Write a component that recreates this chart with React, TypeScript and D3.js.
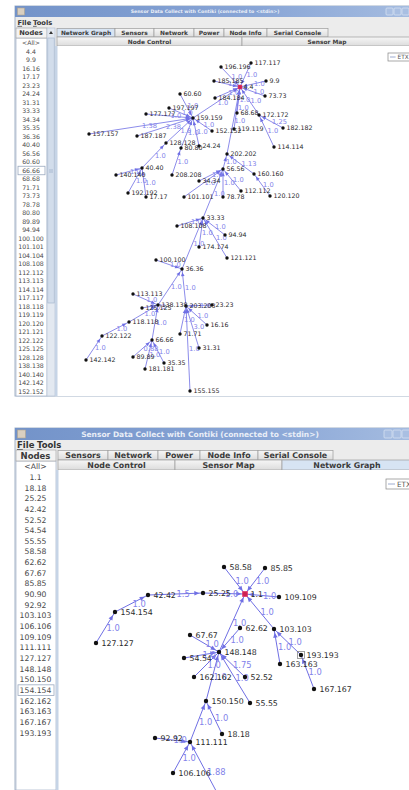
import { useEffect, useRef } from "react";
import * as d3 from "d3";

const TITLE = "Sensor Data Collect with Contiki (connected to <stdin>)";
const menuItems = ["File", "Tools"];

// top screenshot
const tabs1 = ["Network Graph", "Sensors", "Network", "Power", "Node Info", "Serial Console"];
const subTabs1 = ["Node Control", "Sensor Map"];
const nodeList1 = [
  "<All>", "4.4", "9.9", "16.16", "17.17", "23.23", "24.24", "31.31", "33.33", "34.34",
  "35.35", "36.36", "40.40", "56.56", "60.60", "66.66", "68.68", "71.71", "73.73", "78.78",
  "80.80", "89.89", "94.94", "100.100", "101.101", "104.104", "108.108", "112.112", "113.113",
  "114.114", "117.117", "118.118", "119.119", "120.120", "121.121", "122.122", "125.125",
  "128.128", "138.138", "140.140", "142.142", "152.152",
];

// [node, x, y] in graph-panel units
const graph1Nodes: [string, number, number][] = [
  ["4.4", 183, 41], ["117.117", 194, 17], ["196.196", 164, 21], ["185.185", 157, 35],
  ["9.9", 209, 35], ["73.73", 208, 50], ["184.184", 158, 52], ["60.60", 123, 48],
  ["197.197", 112, 62], ["177.177", 89, 68], ["159.159", 136, 72], ["157.157", 32, 88],
  ["187.187", 80, 90], ["152.152", 155, 85], ["68.68", 180, 67], ["172.172", 202, 69],
  ["182.182", 226, 82], ["119.119", 177, 83], ["128.128", 109, 97], ["80.80", 124, 102],
  ["24.24", 142, 100], ["114.114", 217, 101], ["202.202", 170, 108], ["40.40", 85, 122],
  ["140.140", 59, 129], ["208.208", 115, 129], ["56.56", 166, 123], ["160.160", 197, 128],
  ["34.34", 142, 135], ["112.112", 184, 145], ["192.192", 71, 147], ["17.17", 89, 151],
  ["101.101", 127, 151], ["78.78", 166, 151], ["120.120", 213, 150], ["33.33", 146, 172],
  ["108.108", 120, 180], ["94.94", 168, 189], ["174.174", 142, 201], ["121.121", 170, 212],
  ["100.100", 99, 214], ["36.36", 125, 223], ["113.113", 76, 248], ["138.138", 101, 259],
  ["125.125", 85, 262], ["203.203", 129, 260], ["23.23", 155, 259], ["118.118", 72, 276],
  ["16.16", 150, 279], ["122.122", 45, 290], ["71.71", 123, 288], ["66.66", 95, 294],
  ["31.31", 142, 302], ["142.142", 29, 314], ["89.89", 76, 311], ["35.35", 107, 317],
  ["181.181", 88, 323], ["155.155", 133, 345],
];

// [child, parent, ETX]
const graph1Links: [string, string, string][] = [
  ["117.117", "4.4", "1.0"], ["196.196", "4.4", "1.0"], ["185.185", "4.4", "1.0"],
  ["9.9", "4.4", "1.0"], ["73.73", "4.4", "1.0"], ["184.184", "4.4", "1.0"],
  ["159.159", "4.4", "1.0"], ["68.68", "4.4", "1.0"], ["172.172", "4.4", "1.0"],
  ["119.119", "4.4", "1.0"], ["202.202", "4.4", "1.0"], ["182.182", "172.172", "1.25"],
  ["114.114", "172.172", "1.0"], ["60.60", "159.159", "1.0"], ["197.197", "159.159", "1.0"],
  ["177.177", "159.159", "1.0"], ["157.157", "159.159", "1.38"], ["187.187", "159.159", "2.38"],
  ["152.152", "159.159", "1.0"], ["128.128", "159.159", "1.0"], ["24.24", "159.159", "1.0"],
  ["80.80", "159.159", "1.0"], ["208.208", "80.80", "1.0"], ["40.40", "128.128", "1.0"],
  ["140.140", "40.40", "1.0"], ["192.192", "40.40", "1.0"], ["17.17", "40.40", "1.0"],
  ["56.56", "202.202", "1.0"], ["160.160", "202.202", "1.13"], ["120.120", "160.160", "1.0"],
  ["34.34", "56.56", "1.0"], ["101.101", "56.56", "1.0"], ["78.78", "56.56", "1.0"],
  ["112.112", "56.56", "1.0"], ["33.33", "56.56", "1.0"], ["108.108", "33.33", "1.0"],
  ["94.94", "33.33", "1.0"], ["174.174", "33.33", "1.0"], ["121.121", "33.33", "1.0"],
  ["36.36", "33.33", "1.0"], ["100.100", "36.36", "1.0"], ["138.138", "36.36", "1.0"],
  ["203.203", "36.36", "1.0"], ["113.113", "138.138", "1.0"], ["125.125", "138.138", "1.75"],
  ["118.118", "138.138", "1.0"], ["122.122", "118.118", "1.0"], ["142.142", "122.122", "1.0"],
  ["66.66", "138.138", "1.0"], ["89.89", "66.66", "0.88"], ["35.35", "66.66", "1.0"],
  ["181.181", "66.66", "1.0"], ["23.23", "203.203", "1.0"], ["16.16", "203.203", "1.0"],
  ["71.71", "203.203", "1.0"], ["31.31", "203.203", "3.0"], ["155.155", "203.203", "1.0"],
];

// bottom screenshot
const tabs2 = ["Sensors", "Network", "Power", "Node Info", "Serial Console"];
const subTabs2 = ["Node Control", "Sensor Map", "Network Graph"];
const nodeList2 = [
  "<All>", "1.1", "18.18", "25.25", "42.42", "52.52", "54.54", "55.55", "58.58", "62.62",
  "67.67", "85.85", "90.90", "92.92", "103.103", "106.106", "109.109", "111.111", "127.127",
  "148.148", "150.150", "154.154", "162.162", "163.163", "167.167", "193.193",
];

const graph2Nodes: [string, number, number][] = [
  ["1.1", 187, 124], ["58.58", 166, 97], ["85.85", 207, 98], ["42.42", 90, 125],
  ["25.25", 145, 123], ["109.109", 221, 127], ["154.154", 57, 142], ["127.127", 38, 173],
  ["62.62", 182, 158], ["103.103", 216, 159], ["67.67", 132, 165], ["148.148", 161, 182],
  ["54.54", 126, 188], ["193.193", 243, 185], ["163.163", 222, 194], ["162.162", 136, 207],
  ["52.52", 187, 207], ["167.167", 256, 219], ["150.150", 148, 231], ["55.55", 192, 233],
  ["18.18", 164, 264], ["92.92", 97, 268], ["111.111", 132, 272], ["106.106", 115, 303],
  ["90.90", 164, 332],
];

const graph2Links: [string, string, string][] = [
  ["58.58", "1.1", "1.0"], ["85.85", "1.1", "1.0"], ["25.25", "1.1", "1.0"],
  ["109.109", "1.1", "1.0"], ["148.148", "1.1", "1.0"], ["103.103", "1.1", "1.0"],
  ["42.42", "25.25", "1.5"], ["154.154", "42.42", "1.0"], ["127.127", "154.154", "1.0"],
  ["62.62", "148.148", "1.0"], ["67.67", "148.148", "1.0"], ["54.54", "148.148", "1.0"],
  ["162.162", "148.148", "1.0"], ["52.52", "148.148", "1.75"], ["55.55", "148.148", "1.0"],
  ["150.150", "148.148", "1.0"], ["163.163", "103.103", "1.0"], ["193.193", "103.103", "1.0"],
  ["167.167", "193.193", "1.0"], ["18.18", "150.150", "1.0"], ["111.111", "150.150", "1.0"],
  ["92.92", "111.111", "1.0"], ["106.106", "111.111", "1.0"], ["90.90", "111.111", "1.88"],
];

const FONT = "'DejaVu Sans', sans-serif";
const LEFT = 15;
const RIGHT = 409;

type Cfg = {
  id: string;
  top: number; bottom: number;
  titleH: number; menuH: number; tabH: number; subH: number;
  listRight: number; scrollRight: number; graphLeft: number;
  titleX: number; btnX: number[]; btn: number;
  tabs: string[]; tabEdges: number[]; selTab: number;
  subs: string[]; subEdges: number[]; selSub: number;
  items: string[]; itemY0: number; itemStep: number; selItem: string;
  f: { title: number; menu: number; tab: number; list: number; node: number; etx: number };
  menuX: number[];
  nodes: [string, number, number][]; links: [string, string, string][];
  root: string; boxed?: string;
  dotR: number; arrow: number; lineW: number; labelDx: number;
  legend: [number, number, number, number];
};

function drawWindow(svg: d3.Selection<SVGSVGElement, unknown, null, undefined>, c: Cfg) {
  const g = svg.append("g");
  const yMenu = c.top + c.titleH;
  const yTab = yMenu + c.menuH;
  const ySub = yTab + c.tabH;
  const yGraph = ySub + c.subH;

  g.append("rect").attr("x", LEFT).attr("y", c.top).attr("width", RIGHT - LEFT + 4)
    .attr("height", c.bottom - c.top).attr("fill", "#ececec").attr("stroke", "#a4b3c8");

  // title bar
  g.append("rect").attr("x", LEFT).attr("y", c.top).attr("width", RIGHT - LEFT + 4)
    .attr("height", c.titleH).attr("fill", "url(#titleGrad)");
  g.append("rect").attr("x", LEFT + 2.5).attr("y", c.top + 2).attr("width", c.titleH - 4)
    .attr("height", c.titleH - 4).attr("fill", "#d9cfc0").attr("stroke", "#b0a490").attr("stroke-width", 0.6);
  g.append("text").attr("x", c.titleX).attr("y", c.top + c.titleH / 2).attr("dy", "0.36em")
    .attr("text-anchor", "middle").attr("font-family", FONT).attr("font-weight", "bold")
    .attr("font-size", c.f.title).attr("fill", "#e9eef7").text(TITLE);
  c.btnX.forEach((bx) => {
    g.append("rect").attr("x", bx).attr("y", c.top + (c.titleH - c.btn) / 2).attr("width", c.btn)
      .attr("height", c.btn).attr("rx", 1).attr("fill", "#a9bfe2").attr("stroke", "#dbe5f4").attr("stroke-width", 0.7);
  });

  // menu
  menuItems.forEach((m, i) => {
    const t = g.append("text").attr("x", c.menuX[i]).attr("y", yMenu + c.menuH / 2).attr("dy", "0.36em")
      .attr("font-family", FONT).attr("font-weight", "bold").attr("font-size", c.f.menu).attr("fill", "#333");
    t.append("tspan").attr("text-decoration", "underline").text(m[0]);
    t.append("tspan").text(m.slice(1));
  });

  // node list
  const listMid = (LEFT + c.listRight) / 2;
  g.append("rect").attr("x", LEFT + 1).attr("y", yTab + c.tabH + 1).attr("width", c.listRight - LEFT - 1)
    .attr("height", c.bottom - yTab - c.tabH - 1).attr("fill", "#fff").attr("stroke", "#aebbd0").attr("stroke-width", 0.8);
  g.append("rect").attr("x", LEFT + 1).attr("y", yTab).attr("width", c.listRight - LEFT - 1)
    .attr("height", c.tabH + 1).attr("fill", "#f3f3f3").attr("stroke", "#a8a8a8").attr("stroke-width", 0.7);
  g.append("text").attr("x", listMid).attr("y", yTab + (c.tabH + 1) / 2).attr("dy", "0.36em")
    .attr("text-anchor", "middle").attr("font-family", FONT).attr("font-weight", "bold")
    .attr("font-size", c.f.menu).attr("fill", "#3a3a3a").text("Nodes");
  if (c.scrollRight > c.listRight) {
    const sw = c.scrollRight - c.listRight;
    g.append("rect").attr("x", c.listRight).attr("y", yTab).attr("width", sw)
      .attr("height", c.bottom - yTab).attr("fill", "#e3e9f1").attr("stroke", "#b3c0d2").attr("stroke-width", 0.6);
    g.append("rect").attr("x", c.listRight + 0.8).attr("y", yTab + c.tabH + 1).attr("width", sw - 1.6)
      .attr("height", 265).attr("fill", "#d2ddeb").attr("stroke", "#9fb1c9").attr("stroke-width", 0.6);
    g.append("path")
      .attr("d", `M${c.listRight + sw / 2},${yTab + 3} l2,3 h-4 z`).attr("fill", "#333");
    g.append("path")
      .attr("d", `M${c.listRight + 2},${yTab + c.tabH + 133} h${sw - 4} M${c.listRight + 2},${yTab + c.tabH + 135} h${sw - 4}`)
      .attr("stroke", "#8fa3bf").attr("stroke-width", 0.6);
  }
  c.items.forEach((it, i) => {
    const y = c.itemY0 + i * c.itemStep;
    if (it === c.selItem) {
      g.append("rect").attr("x", LEFT + 3).attr("y", y - c.itemStep / 2).attr("width", c.listRight - LEFT - 5)
        .attr("height", c.itemStep).attr("fill", "none").attr("stroke", "#9aa9bf").attr("stroke-width", 0.8);
    }
    g.append("text").attr("x", listMid).attr("y", y).attr("dy", "0.36em").attr("text-anchor", "middle")
      .attr("font-family", FONT).attr("font-size", c.f.list).attr("fill", "#4a4a4a").text(it);
  });

  // tabs
  const tabRow = (labels: string[], edges: number[], sel: number, y: number, h: number) => {
    labels.forEach((lab, i) => {
      const x0 = edges[i];
      const x1 = edges[i + 1];
      g.append("rect").attr("x", x0).attr("y", y).attr("width", x1 - x0).attr("height", h)
        .attr("fill", i === sel ? "#d7e4f3" : "url(#tabGrad)").attr("stroke", "#9c9c9c").attr("stroke-width", 0.7);
      g.append("text").attr("x", (x0 + x1) / 2).attr("y", y + h / 2).attr("dy", "0.36em")
        .attr("text-anchor", "middle").attr("font-family", FONT).attr("font-weight", "bold")
        .attr("font-size", c.f.tab).attr("fill", "#3c3c3c").text(lab);
    });
  };
  tabRow(c.tabs, c.tabEdges, c.selTab, yTab + 0.5, c.tabH - 0.5);
  tabRow(c.subs, c.subEdges, c.selSub, ySub, c.subH);

  // graph panel
  const gw = RIGHT - c.graphLeft;
  const gh = c.bottom - yGraph;
  g.append("rect").attr("x", c.graphLeft).attr("y", yGraph).attr("width", gw + 2).attr("height", gh).attr("fill", "#fff");
  g.append("rect").attr("x", c.graphLeft - 2).attr("y", yGraph).attr("width", 2.5).attr("height", gh).attr("fill", "#c6d4e6");

  svg.select("defs").append("clipPath").attr("id", `clip-${c.id}`)
    .append("rect").attr("x", c.graphLeft).attr("y", yGraph).attr("width", gw).attr("height", gh);
  const gg = g.append("g").attr("clip-path", `url(#clip-${c.id})`);

  const x = d3.scaleLinear().domain([0, gw]).range([c.graphLeft, RIGHT]);
  const y = d3.scaleLinear().domain([0, gh]).range([yGraph, c.bottom]);
  const pos = new Map(c.nodes.map(([n, nx, ny]) => [n, [x(nx), y(ny)] as [number, number]]));

  const edges = c.links.map(([ch, pa, etx]) => ({ a: pos.get(ch)!, b: pos.get(pa)!, etx }));
  const edgeColor = "#6f6fe4";

  gg.selectAll("line.edge").data(edges).join("line").attr("class", "edge")
    .attr("x1", (d) => d.a[0]).attr("y1", (d) => d.a[1]).attr("x2", (d) => d.b[0]).attr("y2", (d) => d.b[1])
    .attr("stroke", edgeColor).attr("stroke-width", c.lineW);

  // arrow heads near the parent
  gg.selectAll("path.arrow").data(edges).join("path").attr("class", "arrow")
    .attr("d", (d) => {
      const dx = d.b[0] - d.a[0];
      const dy = d.b[1] - d.a[1];
      const len = Math.hypot(dx, dy) || 1;
      const ux = dx / len, uy = dy / len;
      const tx = d.b[0] - ux * (c.dotR + 1.5), ty = d.b[1] - uy * (c.dotR + 1.5);
      const bx = tx - ux * c.arrow, by = ty - uy * c.arrow;
      const w = c.arrow * 0.45;
      return `M${tx},${ty}L${bx - uy * w},${by + ux * w}L${bx + uy * w},${by - ux * w}Z`;
    })
    .attr("fill", edgeColor);

  gg.selectAll("text.etx").data(edges).join("text").attr("class", "etx")
    .attr("x", (d) => (d.a[0] + d.b[0]) / 2 + 1).attr("y", (d) => (d.a[1] + d.b[1]) / 2).attr("dy", "0.36em")
    .attr("font-family", FONT).attr("font-size", c.f.etx).attr("fill", "#8282ea").text((d) => d.etx);

  gg.selectAll("circle.node").data(c.nodes).join("circle").attr("class", "node")
    .attr("cx", (d) => x(d[1])).attr("cy", (d) => y(d[2])).attr("r", c.dotR).attr("fill", "#111");

  gg.selectAll("text.label").data(c.nodes).join("text").attr("class", "label")
    .attr("x", (d) => x(d[1]) + c.labelDx).attr("y", (d) => y(d[2])).attr("dy", "0.36em")
    .attr("font-family", FONT).attr("font-size", c.f.node).attr("fill", "#2b2b2b").text((d) => d[0]);

  const r = pos.get(c.root)!;
  const rs = c.dotR * 2.6;
  gg.append("rect").attr("x", r[0] - rs / 2).attr("y", r[1] - rs / 2).attr("width", rs).attr("height", rs)
    .attr("fill", "#e2245a").attr("opacity", 0.9);
  if (c.boxed) {
    const b = pos.get(c.boxed)!;
    gg.append("rect").attr("x", b[0] - 3.5).attr("y", b[1] - 3.5).attr("width", 7).attr("height", 7)
      .attr("fill", "none").attr("stroke", "#777").attr("stroke-width", 0.7);
  }

  const [lx, ly, lw, lh] = c.legend;
  g.append("rect").attr("x", lx).attr("y", ly).attr("width", lw).attr("height", lh)
    .attr("fill", "#fff").attr("stroke", "#858585").attr("stroke-width", 0.7);
  g.append("line").attr("x1", lx + 2).attr("x2", lx + lh * 0.7 + 2).attr("y1", ly + lh / 2).attr("y2", ly + lh / 2)
    .attr("stroke", "#8797c4").attr("stroke-width", 0.8);
  g.append("text").attr("x", lx + lh * 0.7 + 4).attr("y", ly + lh / 2).attr("dy", "0.36em")
    .attr("font-family", FONT).attr("font-size", lh * 0.72).attr("fill", "#555").text("ETX");
}

const App = () => {
  const svgRef = useRef<SVGSVGElement>(null);

  useEffect(() => {
    if (!svgRef.current) return;
    const svg = d3.select(svgRef.current);
    svg.selectAll("*").remove();

    const defs = svg.append("defs");
    const tg = defs.append("linearGradient").attr("id", "titleGrad").attr("x1", "0%").attr("x2", "100%");
    tg.append("stop").attr("offset", "0%").attr("stop-color", "#7393c9");
    tg.append("stop").attr("offset", "60%").attr("stop-color", "#88a5d6");
    tg.append("stop").attr("offset", "100%").attr("stop-color", "#a5bce0");
    const tb = defs.append("linearGradient").attr("id", "tabGrad").attr("x1", "0%").attr("x2", "0%").attr("y1", "0%").attr("y2", "100%");
    tb.append("stop").attr("offset", "0%").attr("stop-color", "#f6f6f6");
    tb.append("stop").attr("offset", "100%").attr("stop-color", "#dcdcdc");

    svg.append("rect").attr("width", 409).attr("height", 790).attr("fill", "#fff");

    drawWindow(svg, {
      id: "a", top: 6, bottom: 396,
      titleH: 11, menuH: 11, tabH: 9, subH: 9,
      listRight: 47, scrollRight: 55, graphLeft: 57,
      titleX: 205, btnX: [386, 394, 402], btn: 7,
      tabs: tabs1, tabEdges: [57, 115, 154, 194, 224, 267, 328], selTab: 0,
      subs: subTabs1, subEdges: [57, 242, 412], selSub: -1,
      items: nodeList1, itemY0: 43, itemStep: 8.5, selItem: "66.66",
      f: { title: 4.7, menu: 6.7, tab: 5.9, list: 6.2, node: 6.3, etx: 6.7 },
      menuX: [17.5, 33],
      nodes: graph1Nodes, links: graph1Links, root: "4.4",
      dotR: 1.7, arrow: 4, lineW: 0.8, labelDx: 3.5,
      legend: [388, 53, 24, 8],
    });

    drawWindow(svg, {
      id: "b", top: 428, bottom: 790,
      titleH: 12, menuH: 10, tabH: 10, subH: 10,
      listRight: 56, scrollRight: 56, graphLeft: 58,
      titleX: 200, btnX: [384, 393, 402], btn: 8,
      tabs: tabs2, tabEdges: [58, 108, 158, 200, 258, 333], selTab: -1,
      subs: subTabs2, subEdges: [58, 175, 282, 412], selSub: 2,
      items: nodeList2, itemY0: 466.5, itemStep: 10.65, selItem: "154.154",
      f: { title: 7.5, menu: 8.5, tab: 7.9, list: 7.7, node: 7.8, etx: 8.4 },
      menuX: [17, 37],
      nodes: graph2Nodes, links: graph2Links, root: "1.1", boxed: "193.193",
      dotR: 2.2, arrow: 5, lineW: 1, labelDx: 5.5,
      legend: [386, 479, 26, 10],
    });
  }, []);

  return (
    <>
      <style>{`body{margin:0}`}</style>
      <svg ref={svgRef} width={409} height={790} style={{ display: "block" }} />
    </>
  );
};

export default App;
